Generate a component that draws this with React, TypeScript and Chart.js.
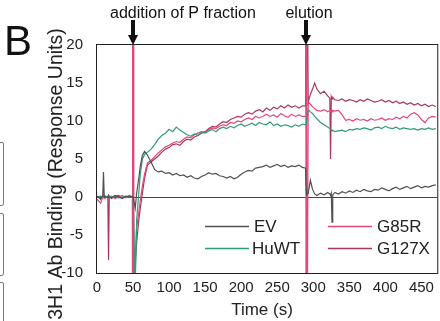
import React, { useEffect, useRef } from "react";
import { Chart, registerables } from "chart.js";

Chart.register(...registerables);

// ---- data ----
const times = [
  0, 5, 8, 9, 10, 15, 16, 17, 20, 25, 30, 35, 40, 45, 49,
  49.4, 49.8, 50.2, 50.6, 51,
  53, 55, 58, 60, 63, 66, 70,
  75, 80, 85, 90, 95, 100, 105, 110, 115, 120, 125, 130, 135, 140, 145, 150, 155, 160, 165, 170,
  175, 180, 185, 190, 195, 200, 205, 210, 215, 220, 225, 230, 235, 240, 245, 250, 255, 260, 265,
  270, 275, 280, 285,
  289.4, 289.8, 290.2, 290.6, 291,
  293, 296, 299, 302, 305, 310, 315, 320, 323, 324, 325, 326, 327, 330,
  335, 340, 345, 350, 355, 360, 365, 370, 375, 380, 385, 390, 395, 400, 405, 410, 415, 420, 425,
  430, 435, 440, 445, 450, 455, 460, 465, 470,
];

const evValues = [
  0.1, -0.2, 0.2, 3.3, 0.1, -0.1, 0.2, 0, -0.1, 0.2, 0, -0.2, 0.1, 0, 0.1,
  0, 0, 0, 0, 0,
  -1.5, 0.5, 2.5, 4, 5.5, 6, 5.5,
  4.6, 3.6, 3.3, 3.4, 3.1, 3.2, 2.9, 3.1, 2.8, 2.9, 2.6, 2.8, 2.5, 2.4, 2.7, 2.9, 3.2, 3.0, 3.1, 2.8,
  2.7, 2.5, 2.7, 2.4, 2.6, 3.0, 3.3, 3.5, 3.4, 3.8, 3.9, 4.0, 4.2, 3.9, 4.1, 4.3, 4.0, 4.2, 3.9,
  4.1, 4.0, 4.2, 3.9,
  3.8, 2, 1, 0.5, 0.3,
  0.5, 2.2, 1.0, 0.4, 0.2, 0.5, 0.3, 0.6, 0.4, 0.2, 0.5, -3.3, 0.3, 0.6,
  0.4, 0.7, 0.5, 0.8, 0.6, 0.9, 0.7, 1.0, 0.8, 0.7, 1.0, 0.9, 1.2, 1.0, 0.8, 1.1, 1.3, 1.0, 1.2,
  1.4, 1.1, 1.3, 1.5, 1.2, 1.4, 1.3, 1.5, 1.6,
];

const huwtValues = [
  0, 0.1, -0.1, 0, 0.1, 0, -0.1, 0.1, 0, 0.1, -0.1, 0, 0.1, 0, 0,
  0, 0, 0, 0, 0,
  -12, -3, 0.5, 3, 5, 5.6, 5.9,
  6.3, 6.9, 7.6, 8.1, 8.4, 8.9, 8.6, 9.2, 8.8, 8.5, 8.2, 8.0, 8.3, 8.1, 8.5, 8.4, 8.7, 8.9, 8.6, 9.0,
  9.2, 9.0, 9.3, 9.1, 9.4, 9.6, 9.3, 9.5, 9.7, 9.4, 9.8, 9.6, 9.5, 9.9, 9.4, 9.6, 9.3, 9.5, 9.4,
  9.2, 9.5, 9.3, 9.6,
  9.5, 9.5, 9.6, 9.6, 9.6,
  11.5, 11.2, 11.0, 10.6, 10.3, 9.8, 9.5, 9.2, 9.0, 8.9, 8.8, 8.7, 8.8, 8.6,
  8.7, 8.8, 8.6, 8.9, 8.8, 9.0, 8.9, 9.1, 9.0, 8.8, 9.1, 9.2, 9.0, 9.3, 9.1, 9.0, 9.2, 8.9, 9.1,
  9.0, 8.9, 9.0, 8.8, 9.0, 8.9, 9.1, 8.9, 9.0,
];

const g85rValues = [
  -0.3, -0.8, 0, 0.2, -0.2, 0, 0.2, -0.1, 0.1, -0.2, 0, 0.2, -0.1, 0.1, 0,
  40, -40, 40, -40, -40,
  -8, -4, -2, -0.5, 1.5, 3, 4.5,
  4.8, 5.3, 5.8, 6.2, 6.6, 6.8, 7.1, 7.3, 7.2, 7.6, 7.9, 7.8, 8.2, 8.4, 8.6, 8.5, 8.9, 9.1, 9.0, 9.3,
  9.5, 9.4, 9.8, 9.7, 10.0, 9.9, 10.2, 10.4, 10.2, 10.6, 10.4, 10.6, 10.9, 10.6, 10.8, 10.5, 11.0, 10.7, 10.5,
  10.9, 10.6, 10.8, 10.6,
  10.6, 40, -40, 40, -40,
  12.5, 12.2, 11.9, 11.6, 11.4, 11.3, 11.5, 11.2, 11.4, 11.3, 11.5, 11.2, 11.4, 11.3,
  11.4, 10.8, 10.1, 10.2, 10.0, 10.3, 10.1, 10.2, 10.0, 10.3, 10.1, 10.2, 10.4, 10.1, 10.3, 10.2, 10.5, 10.3, 10.6,
  10.4, 10.9, 11.1, 10.8, 10.2, 9.8, 10.4, 10.6, 10.5,
];

const g127xValues = [
  0.1, -0.3, 0.1, 0, 0.2, -0.1, -8.3, 0.1, -0.2, 0.1, 0.2, -0.1, 0, 0.2, 0,
  0, 40, -40, 40, -40,
  -9, -6, -3, -1.5, 0.5, 2.5, 4.2,
  4.6, 5.0, 5.4, 5.9, 6.3, 6.5, 6.9, 7.0, 6.8, 7.3, 7.6, 7.5, 7.9, 8.1, 8.4, 8.6, 9.0, 9.3, 9.2, 9.6,
  9.9, 9.8, 10.2, 10.4, 10.6, 10.5, 10.9, 11.1, 10.9, 11.3, 11.5, 11.2, 11.7, 11.4, 11.8, 11.6, 12.0, 11.7, 12.1,
  11.8, 12.0, 11.7, 12.0,
  12.0, 12.0, 40, -40, 40,
  12.5, 13.5, 14.2, 15.0, 14.2, 13.6, 13.9, 13.3, 13.0, 5.0, 13.2, 12.9, 13.1, 12.8,
  12.7, 12.9, 12.6, 12.8, 12.7, 12.5, 12.8, 12.6, 12.9, 12.7, 12.5, 12.6, 12.8, 12.5, 12.7, 12.4, 12.6, 12.3, 12.5,
  12.2, 12.4, 12.1, 12.3, 12.0, 12.2, 11.9, 12.1, 11.9,
];

const seriesLabels = ["EV", "HuWT", "G85R", "G127X"];
const seriesColors = ["#505050", "#2f9a7c", "#e4477a", "#a9375c"];

const yMin = -10;
const yMax = 20;
const yStep = 5;
const xMin = 0;
const xMax = 472;
const xStep = 50;

const eventTimes = [50, 290];
const eventLabels = ["addition of P fraction", "elution"];
const panelLetter = "B";
const yTitle = "3H1 Ab Binding (Response Units)";
const xTitle = "Time (s)";

const FONT = "'Liberation Sans', Arial, Helvetica, sans-serif";

const decorPlugin = {
  id: "decor",
  afterDraw(chart: any) {
    const { ctx, chartArea: a, scales } = chart;
    const xs = scales.x;
    ctx.save();

    // plot frame
    ctx.strokeStyle = "#222";
    ctx.lineWidth = 1;
    ctx.strokeRect(a.left - 0.5, a.top - 0.5, a.right - a.left + 1, a.bottom - a.top + 1);

    // event arrows + labels
    ctx.fillStyle = "#111";
    eventTimes.forEach((t, i) => {
      const x = Math.round(xs.getPixelForValue(t));
      ctx.fillRect(x - 2, 20, 4, 16);
      ctx.beginPath();
      ctx.moveTo(x - 5, 35);
      ctx.lineTo(x + 5, 35);
      ctx.lineTo(x, a.top);
      ctx.closePath();
      ctx.fill();
      ctx.font = `16px ${FONT}`;
      ctx.textBaseline = "alphabetic";
      if (i === 0) {
        ctx.textAlign = "left";
        ctx.fillText(eventLabels[i], x - 23, 18);
      } else {
        ctx.textAlign = "center";
        ctx.fillText(eventLabels[i], x + 3, 18);
      }
    });

    // panel letter
    ctx.fillStyle = "#111";
    ctx.font = `42px ${FONT}`;
    ctx.textAlign = "left";
    ctx.textBaseline = "alphabetic";
    ctx.fillText(panelLetter, 4, 55);

    // axis titles
    ctx.fillStyle = "#222";
    ctx.font = `19.5px ${FONT}`;
    ctx.save();
    ctx.translate(57, 174);
    ctx.rotate(-Math.PI / 2);
    ctx.textAlign = "center";
    ctx.textBaseline = "middle";
    ctx.fillText(yTitle, 0, 0);
    ctx.restore();

    ctx.font = `17px ${FONT}`;
    ctx.textAlign = "center";
    ctx.textBaseline = "alphabetic";
    ctx.fillText(xTitle, 262, 315);

    // legend (two columns)
    const cols = [
      { lx: a.left + 108, tx: a.left + 157 },
      { lx: a.left + 231, tx: a.left + 280 },
    ];
    const rows = [226, 248];
    ctx.font = `17px ${FONT}`;
    ctx.textAlign = "left";
    ctx.textBaseline = "middle";
    chart.data.datasets.forEach((ds: any, i: number) => {
      const c = cols[Math.floor(i / 2)];
      const y = rows[i % 2];
      ctx.strokeStyle = ds.borderColor;
      ctx.lineWidth = 1.5;
      ctx.beginPath();
      ctx.moveTo(c.lx, y + 0.5);
      ctx.lineTo(c.lx + 44, y + 0.5);
      ctx.stroke();
      ctx.fillStyle = "#222";
      ctx.fillText(ds.label, c.tx - (i === 1 ? 2 : 0), y + 1);
    });

    // fragments of neighbouring panel boxes at the left edge
    ctx.strokeStyle = "#777";
    ctx.lineWidth = 1;
    [[142, 205], [213, 275], [282, 340]].forEach(([t, b]) => {
      ctx.beginPath();
      ctx.moveTo(-5, t + 0.5);
      ctx.lineTo(2, t + 0.5);
      ctx.quadraticCurveTo(3.5, t + 0.5, 3.5, t + 2);
      ctx.lineTo(3.5, b - 2);
      ctx.quadraticCurveTo(3.5, b + 0.5, 2, b + 0.5);
      ctx.lineTo(-5, b + 0.5);
      ctx.stroke();
    });

    ctx.restore();
  },
};

export default function App() {
  const canvasRef = useRef<HTMLCanvasElement | null>(null);

  useEffect(() => {
    if (!canvasRef.current) return;
    const series = [evValues, huwtValues, g85rValues, g127xValues];
    const chart = new Chart(canvasRef.current, {
      type: "line",
      data: {
        datasets: series.map((vals, i) => ({
          label: seriesLabels[i],
          data: times.map((t, j) => ({ x: t, y: vals[j] })),
          borderColor: seriesColors[i],
          backgroundColor: seriesColors[i],
          borderWidth: 1.2,
          pointRadius: 0,
          tension: 0,
          fill: false,
          clip: 0,
        })),
      },
      options: {
        animation: false,
        responsive: true,
        maintainAspectRatio: false,
        layout: { padding: { top: 45, right: 2, left: 0, bottom: 0 } },
        plugins: {
          legend: { display: false },
          tooltip: { enabled: false },
          title: { display: false },
        },
        scales: {
          x: {
            type: "linear",
            min: xMin,
            max: xMax,
            ticks: {
              stepSize: xStep,
              includeBounds: false,
              padding: 6,
              color: "#222",
              font: { family: FONT, size: 15 },
              maxRotation: 0,
              autoSkip: false,
            },
            grid: { display: false, drawTicks: false },
            border: { display: false },
            afterFit: (s: any) => {
              s.height = 48;
            },
          },
          y: {
            type: "linear",
            min: yMin,
            max: yMax,
            ticks: {
              stepSize: yStep,
              padding: 14,
              color: "#222",
              font: { family: FONT, size: 15 },
            },
            grid: {
              drawTicks: false,
              color: (c: any) => (c.tick && c.tick.value === 0 ? "#444" : "rgba(0,0,0,0)"),
              lineWidth: 1,
            },
            border: { display: false },
            afterFit: (s: any) => {
              s.width = 97;
            },
          },
        },
      },
      plugins: [decorPlugin],
    });
    return () => chart.destroy();
  }, []);

  return (
    <div
      style={{
        position: "fixed",
        left: 0,
        top: 0,
        width: 440,
        height: 321,
        background: "#fff",
      }}
    >
      <canvas ref={canvasRef} />
    </div>
  );
}
